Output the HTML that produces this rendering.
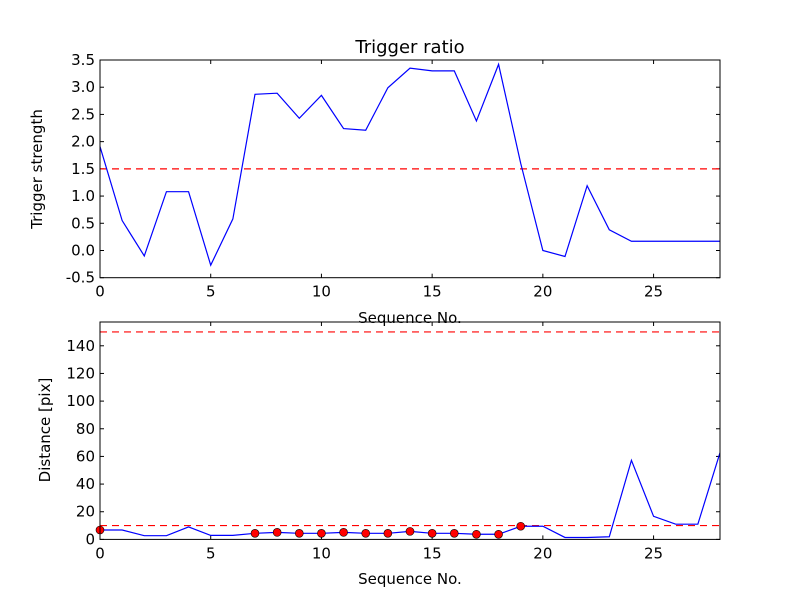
<!DOCTYPE html>
<html><head><meta charset="utf-8"><style>
body{margin:0;background:#fff;}
svg{display:block;font-family:"DejaVu Sans","Liberation Sans",sans-serif;}
</style></head><body>
<svg id="chart" width="800" height="600">
<rect width="800" height="600" fill="#fff"/>
</svg>
<script>
const seq = Array.from({length:29},(_,i)=>i);
const triggerStrength = [1.91,0.55,-0.10,1.08,1.08,-0.27,0.58,2.87,2.89,2.43,2.85,2.24,2.21,2.99,3.35,3.30,3.30,2.38,3.42,1.60,0.0,-0.11,1.19,0.38,0.17,0.17,0.17,0.17,0.17];
const triggerThreshold = 1.5;
const distance = [6.8,6.8,2.7,2.7,9.0,2.9,2.9,4.4,5.1,4.4,4.4,5.1,4.4,4.4,5.8,4.4,4.4,3.7,3.7,9.5,9.5,1.4,1.4,1.9,57.2,16.7,11,11,62.7];
const markerIdx = [0,7,8,9,10,11,12,13,14,15,16,17,18,19];
const distThresholds = [10,150];
const xTicks = [0,5,10,15,20,25];
const topYTicks = [-0.5,0.0,0.5,1.0,1.5,2.0,2.5,3.0,3.5];
const botYTicks = [0,20,40,60,80,100,120,140];

const NS="http://www.w3.org/2000/svg";
const svg=document.getElementById('chart');
function mk(tag,attrs,parent){const e=document.createElementNS(NS,tag);for(const k in attrs)e.setAttribute(k,attrs[k]);(parent||svg).appendChild(e);return e;}
const L=100,R=720;
const xs=v=>L+(v-0)/28*(R-L);

function axes(top,bot,ymin,ymax,yticks,fmt,name){
  const ys=v=>bot-(v-ymin)/(ymax-ymin)*(bot-top);
  const g=mk('g',{});
  
  
  xTicks.forEach(t=>{
    const x=xs(t);
    mk('line',{x1:x,x2:x,y1:bot,y2:bot-4,stroke:'#000'},g);
    mk('line',{x1:x,x2:x,y1:top,y2:top+4,stroke:'#000'},g);
    const tx=mk('text',{x:x,y:bot+19,'text-anchor':'middle','font-size':15},g);
    tx.textContent=t;
    
    
  });
  yticks.forEach(t=>{
    const y=ys(t);
    mk('line',{x1:L,x2:L+4,y1:y,y2:y,stroke:'#000'},g);
    mk('line',{x1:R,x2:R-4,y1:y,y2:y,stroke:'#000'},g);
    const tx=mk('text',{x:L-5,y:y+5,'text-anchor':'end','font-size':15},g);
    tx.textContent=fmt(t);
    
    
  });
  return ys;
}

// Top plot
const T1=60,B1=277.7;
const ys1=axes(T1,B1,-0.5,3.5,topYTicks,t=>t.toFixed(1),'top-axes');
const hl1=mk('line',{x1:L,x2:R,y1:ys1(triggerThreshold),y2:ys1(triggerThreshold),stroke:'#f00','stroke-width':1.2,'stroke-dasharray':'7,5'});


const p1=mk('polyline',{points:seq.map((s,i)=>xs(s)+','+ys1(triggerStrength[i])).join(' '),fill:'none',stroke:'#00f','stroke-width':1.2});


mk('rect',{x:L,y:T1,width:R-L,height:B1-T1,fill:'none',stroke:'#000'});

// Bottom plot
const T2=322,B2=539.4;
const ys2=axes(T2,B2,0,157.2,botYTicks,t=>t,'bottom-axes');
distThresholds.forEach(v=>{
  const l=mk('line',{x1:L,x2:R,y1:ys2(v),y2:ys2(v),stroke:'#f00','stroke-width':1.2,'stroke-dasharray':'7,5'});
  
  
});
const p2=mk('polyline',{points:seq.map((s,i)=>xs(s)+','+ys2(distance[i])).join(' '),fill:'none',stroke:'#00f','stroke-width':1.2});


markerIdx.forEach(i=>{
  const c=mk('circle',{cx:xs(seq[i]),cy:ys2(distance[i]),r:4,fill:'#f00',stroke:'#000','stroke-width':0.6});
  
  
});
mk('rect',{x:L,y:T2,width:R-L,height:B2-T2,fill:'none',stroke:'#000'});

// Labels
function label(txt,x,y,size,name,rot){
  const t=mk('text',{x:x,y:y,'text-anchor':'middle','font-size':size});
  if(rot)t.setAttribute('transform',`rotate(-90 ${x} ${y})`);
  t.textContent=txt;
  
  
}
label('Trigger ratio',410,53,18,'top-title');
label('Trigger strength',42,169,15,'top-y-axis-title',true);
label('Sequence No.',410,323,15,'top-x-axis-title');
label('Distance [pix]',50,430,15,'bottom-y-axis-title',true);
label('Sequence No.',410,584,15,'bottom-x-axis-title');
</script>
</body></html>
